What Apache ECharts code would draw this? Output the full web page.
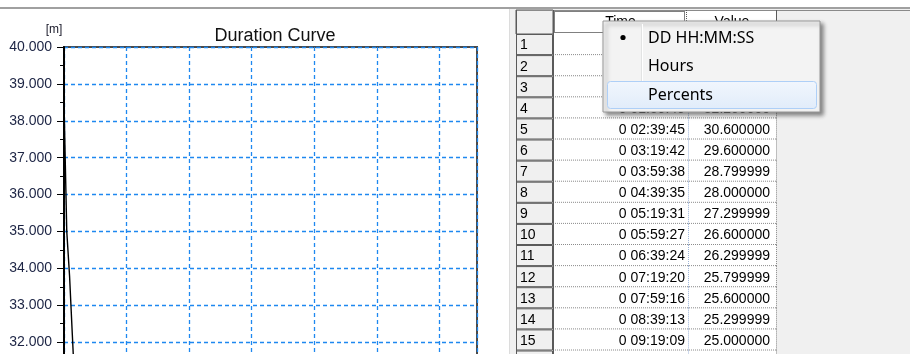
<!DOCTYPE html>
<html>
<head>
<meta charset="utf-8">
<script src="https://cdn.jsdelivr.net/npm/echarts@6/dist/echarts.min.js"></script>
<style>
html,body{margin:0;padding:0;overflow:hidden;background:#fff;width:910px;height:354px;}
#c{width:910px;height:400px;}
</style>
</head>
<body>
<div id="c"></div>
<script>
// ---- data ----
const rowNumbers = [1,2,3,4,5,6,7,8,9,10,11,12,13,14,15,16];
const timeLabels = ['0 00:00:00','0 00:39:56','0 01:19:52','0 01:59:49','0 02:39:45','0 03:19:42','0 03:59:38','0 04:39:35','0 05:19:31','0 05:59:27','0 06:39:24','0 07:19:20','0 07:59:16','0 08:39:13','0 09:19:09','0 09:59:05'];
const values = [38.5, 35.0, 33.8, 32.2, 30.6, 29.6, 28.799999, 28.0, 27.299999, 26.6, 26.299999, 25.799999, 25.6, 25.299999, 25.0, 24.799999];
const columnHeaders = ['Time', 'Value'];
const menuItems = ['DD HH:MM:SS', 'Hours', 'Percents'];
const chartTitle = 'Duration Curve';
const yUnit = '[m]';

function toHours(s){
  const [d, hms] = s.split(' ');
  const [h, m, sec] = hms.split(':').map(Number);
  return Number(d) * 24 + h + m / 60 + sec / 3600;
}
const seriesData = timeLabels.map((t, i) => [toHours(t), values[i]]);

// ---- graphic (window chrome, table, menu) ----
const FONT = '"Liberation Sans", Arial, sans-serif';
const g = [];
g.push({type:'rect', z:-20, shape:{x:0,y:0,width:910,height:400}, style:{fill:'#ffffff'}});
g.push({type:'rect', z:-19, shape:{x:509,y:9,width:401,height:400}, style:{fill:'#f0f0f0'}});
g.push({type:'rect', z:-18, shape:{x:509,y:9,width:1,height:400}, style:{fill:'#dcdcdc'}});
g.push({type:'rect', z:-18, shape:{x:0,y:7,width:910,height:2}, style:{fill:'#a0a0a0'}});
g.push({type:'text', z:5, style:{text:yUnit, x:54, y:30, font:'12px '+FONT, fill:'#1a1a2a', align:'center', verticalAlign:'middle', textAlign:'center', textVerticalAlign:'middle'}});

// table geometry
const tL = 516, c1 = 553, c2 = 688, c3 = 776, hTop = 10, hBot = 34, rowH = 21.1;
// header
g.push({type:'rect', z:1, shape:{x:tL,y:hTop,width:c1-tL,height:hBot-hTop}, style:{fill:'#f0f0f0', stroke:'#5a5a5a', lineWidth:1}});
g.push({type:'rect', z:1, shape:{x:c1,y:hTop,width:c3-c1,height:hBot-hTop}, style:{fill:'#ffffff'}});
g.push({type:'line', z:2, shape:{x1:tL,y1:hTop+0.5,x2:910,y2:hTop+0.5}, style:{stroke:'#8a8a8a', lineWidth:1}});
g.push({type:'line', z:2, shape:{x1:c3+0.5,y1:hTop,x2:c3+0.5,y2:hBot}, style:{stroke:'#5a5a5a', lineWidth:1}});
g.push({type:'rect', z:3, shape:{x:c1+1.5,y:hTop+1.5,width:c2-c1-5,height:hBot-hTop-3}, style:{fill:'none', stroke:'#000', lineWidth:1, lineDash:[1,1]}});
g.push({type:'line', z:2, shape:{x1:c2-1.5,y1:hTop,x2:c2-1.5,y2:hBot}, style:{stroke:'#555', lineWidth:1, lineDash:[1,1]}});
g.push({type:'line', z:2, shape:{x1:c2,y1:hBot-0.5,x2:c3,y2:hBot-0.5}, style:{stroke:'#555', lineWidth:1, lineDash:[1,1]}});
g.push({type:'text', z:4, style:{text:columnHeaders[0], x:(c1+c2)/2, y:(hTop+hBot)/2, font:'14px '+FONT, fill:'#000', align:'center', verticalAlign:'middle', textAlign:'center', textVerticalAlign:'middle'}});
g.push({type:'text', z:4, style:{text:columnHeaders[1], x:(c2+c3)/2, y:(hTop+hBot)/2, font:'14px '+FONT, fill:'#000', align:'center', verticalAlign:'middle', textAlign:'center', textVerticalAlign:'middle'}});
// rows
rowNumbers.forEach((n, i) => {
  const y0 = hBot + i * rowH;
  g.push({type:'rect', z:1, shape:{x:tL+0.5,y:y0+0.5,width:c1-tL-1,height:rowH-1}, style:{fill:'#f0f0f0', stroke:'#5a5a5a', lineWidth:1}});
  g.push({type:'rect', z:1, shape:{x:c1,y:y0,width:c3-c1,height:rowH}, style:{fill:'#ffffff'}});
  g.push({type:'line', z:2, shape:{x1:c1,y1:y0+rowH-0.5,x2:c3,y2:y0+rowH-0.5}, style:{stroke:'#8c8c8c', lineWidth:1, lineDash:[1,1]}});
  g.push({type:'line', z:2, shape:{x1:c2+0.5,y1:y0,x2:c2+0.5,y2:y0+rowH}, style:{stroke:'#9db4d8', lineWidth:1, lineDash:[1,1]}});
  g.push({type:'line', z:2, shape:{x1:c3+0.5,y1:y0,x2:c3+0.5,y2:y0+rowH}, style:{stroke:'#8c8c8c', lineWidth:1, lineDash:[1,1]}});
  g.push({type:'text', z:4, style:{text:String(n), x:520, y:y0+rowH/2+1, font:'14px '+FONT, fill:'#000', align:'left', verticalAlign:'middle', textAlign:'left', textVerticalAlign:'middle'}});
  g.push({type:'text', z:4, style:{text:timeLabels[i], x:c2-3, y:y0+rowH/2+1, font:'14px '+FONT, fill:'#000', align:'right', verticalAlign:'middle', textAlign:'right', textVerticalAlign:'middle'}});
  g.push({type:'text', z:4, style:{text:values[i].toFixed(6), x:c3-6, y:y0+rowH/2+1, font:'14px '+FONT, fill:'#000', align:'right', verticalAlign:'middle', textAlign:'right', textVerticalAlign:'middle'}});
});
g.push({type:'line', z:2, shape:{x1:tL+0.5,y1:hTop,x2:tL+0.5,y2:400}, style:{stroke:'#5a5a5a', lineWidth:1}});
g.push({type:'line', z:2, shape:{x1:c1+0.5,y1:hTop,x2:c1+0.5,y2:400}, style:{stroke:'#5a5a5a', lineWidth:1}});

// context menu
const mX = 603, mY = 21, mW = 217, mH = 91;
const MFONT = '"Noto Sans", "Open Sans", sans-serif';
g.push({type:'rect', z:50, shape:{x:mX,y:mY,width:mW,height:mH}, style:{fill:'#f3f3f3', stroke:'#979797', lineWidth:1, shadowBlur:4, shadowOffsetX:3, shadowOffsetY:3, shadowColor:'rgba(0,0,0,0.45)'}});
g.push({type:'line', z:51, shape:{x1:mX+38.5,y1:mY+3,x2:mX+38.5,y2:mY+mH-3}, style:{stroke:'#e2e3e3', lineWidth:1}});
g.push({type:'line', z:51, shape:{x1:mX+39.5,y1:mY+3,x2:mX+39.5,y2:mY+mH-3}, style:{stroke:'#ffffff', lineWidth:1}});
g.push({type:'rect', z:52, shape:{x:607.5,y:81.5,width:209,height:27,r:3}, style:{fill:{type:'linear',x:0,y:0,x2:0,y2:1,colorStops:[{offset:0,color:'#f1f6fd'},{offset:1,color:'#e1ecfa'}]}, stroke:'#aecff7', lineWidth:1}});
g.push({type:'circle', z:53, shape:{cx:623, cy:37.5, r:2.6}, style:{fill:'#000'}});
menuItems.forEach((t, i) => {
  g.push({type:'text', z:54, style:{text:t, x:648, y:38 + i*28.5, font:'16px '+MFONT, fill:'#000', align:'left', verticalAlign:'middle', textAlign:'left', textVerticalAlign:'middle'}});
});

const chart = echarts.init(document.getElementById('c'), null, {renderer:'canvas'});
chart.setOption({
  animation: false,
  backgroundColor: 'transparent',
  title: {
    text: chartTitle, left: 270, top: 22, textAlign: 'center',
    textStyle: {fontFamily: FONT, fontSize: 18, fontWeight: 'normal', color: '#111'}
  },
  grid: {left: 64, top: 47, right: 433, bottom: 21, show: true, borderColor: '#4a4a4a', borderWidth: 2, backgroundColor: 'transparent'},
  xAxis: {
    type: 'value', min: 0, max: 99, interval: 15,
    axisLine: {show: false}, axisTick: {show: false}, axisLabel: {show: false},
    splitLine: {show: true, lineStyle: {color: '#1e88f0', type: [4, 3], width: 1.3}}
  },
  yAxis: {
    type: 'value', min: 31, max: 40, interval: 1,
    axisLine: {show: true, lineStyle: {color: '#000', width: 2}},
    axisTick: {show: true, inside: false, length: 7, lineStyle: {color: '#000', width: 1}},
    minorTick: {show: true, splitNumber: 2, length: 4, lineStyle: {color: '#000', width: 1}},
    axisLabel: {margin: 12, fontFamily: FONT, fontSize: 14, color: '#1c2444', formatter: v => v.toFixed(3)},
    splitLine: {show: true, lineStyle: {color: '#1e88f0', type: [4, 3], width: 1.3}}
  },
  series: [{
    type: 'line', data: seriesData, showSymbol: false, symbol: 'none',
    lineStyle: {color: '#000', width: 1.4}, clip: true, z: 3
  }],
  graphic: {elements: g}
});
</script>
</body>
</html>
